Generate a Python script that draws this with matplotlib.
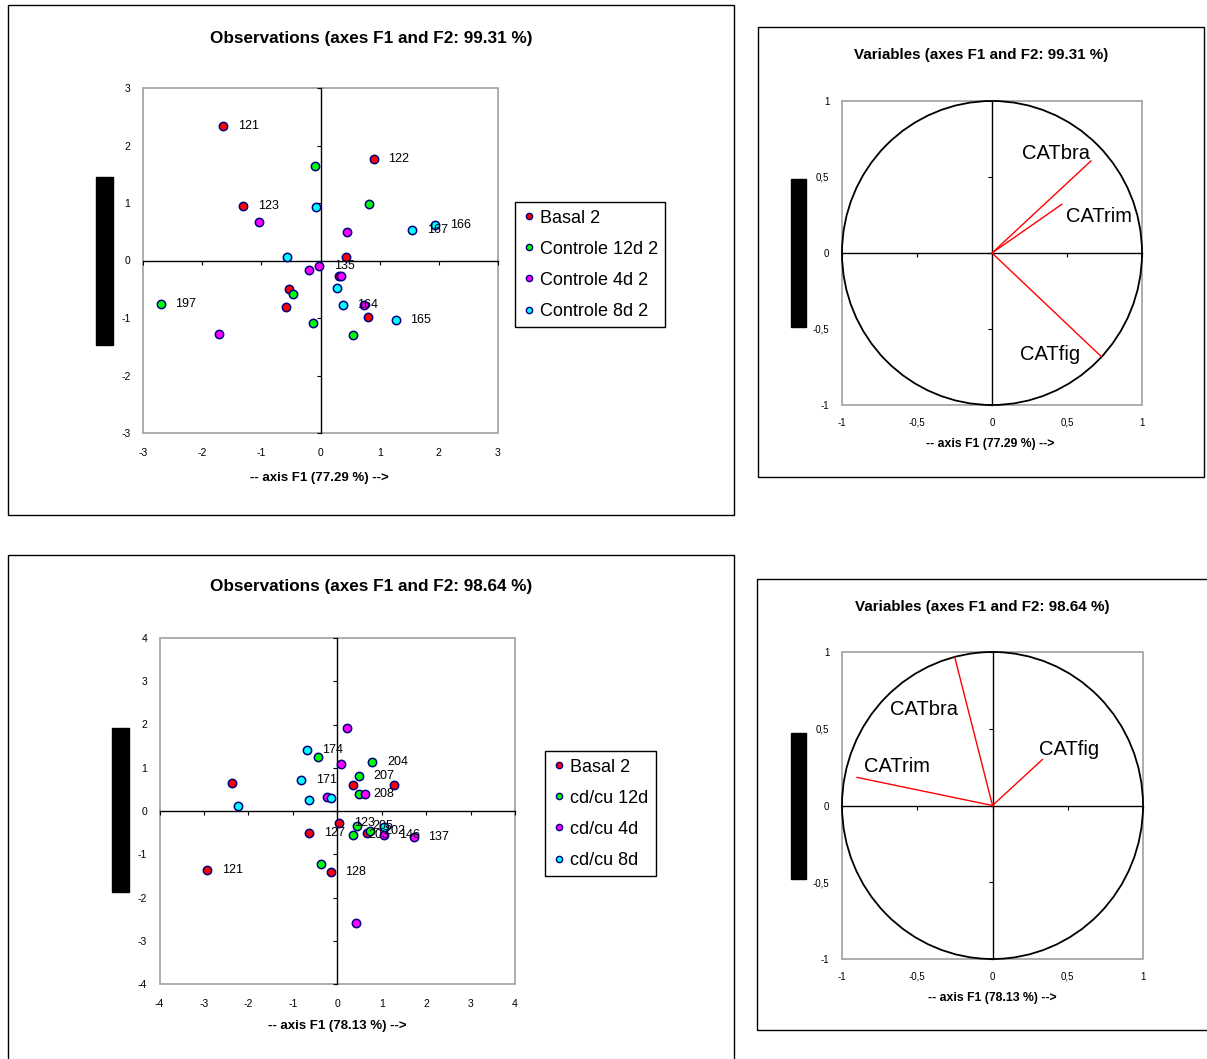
import matplotlib
matplotlib.use('Agg')
import matplotlib.pyplot as plt
from matplotlib.patches import Rectangle, Circle
from matplotlib.lines import Line2D

# ---------------- data ----------------
# Top observations (axes F1 and F2: 99.31 %)
top_series = ['Basal 2', 'Controle 12d 2', 'Controle 4d 2', 'Controle 8d 2']
top_basal_x = [-1.64, 0.90, -1.31, 0.43, 0.31, -0.54, -0.59, 0.80]
top_basal_y = [2.34, 1.77, 0.95, 0.06, -0.275, -0.50, -0.80, -0.99]
top_basal_lbl = ['121', '122', '123', '', '', '', '', '']
top_c12_x = [-0.10, 0.82, -0.46, -2.70, -0.12, 0.555]
top_c12_y = [1.64, 0.98, -0.58, -0.76, -1.09, -1.29]
top_c12_lbl = ['', '', '', '197', '', '']
top_c4_x = [-1.04, 0.45, -0.19, -0.02, 0.35, 0.73, -1.71]
top_c4_y = [0.675, 0.50, -0.17, -0.09, -0.275, -0.78, -1.27]
top_c4_lbl = ['', '', '', '135', '', '', '']
top_c8_x = [-0.07, 1.94, 1.55, -0.57, 0.28, 0.375, 1.275]
top_c8_y = [0.93, 0.62, 0.525, 0.06, -0.47, -0.78, -1.035]
top_c8_lbl = ['', '166', '167', '', '', '164', '165']

# Bottom observations (axes F1 and F2: 98.64 %)
bot_series = ['Basal 2', 'cd/cu 12d', 'cd/cu 4d', 'cd/cu 8d']
bot_basal_x = [-2.36, 0.35, 1.28, 0.05, 0.68, -0.63, -0.15, -2.92]
bot_basal_y = [0.64, 0.60, 0.60, -0.28, -0.51, -0.51, -1.40, -1.37]
bot_basal_lbl = ['', '', '', '123', '', '127', '128', '121']
bot_c12_x = [-0.44, 0.79, 0.48, 0.48, 0.45, 0.73, 0.36, -0.37]
bot_c12_y = [1.24, 1.14, 0.81, 0.40, -0.35, -0.46, -0.55, -1.23]
bot_c12_lbl = ['', '204', '207', '208', '205', '202', '203', '']
bot_c4_x = [0.22, 0.09, 0.63, -0.24, 1.06, 1.72, 0.42]
bot_c4_y = [1.92, 1.08, 0.40, 0.33, -0.55, -0.59, -2.59]
bot_c4_lbl = ['', '', '', '', '146', '137', '']
bot_c8_x = [-0.67, -0.81, -0.14, -0.64, -2.23, 1.05]
bot_c8_y = [1.41, 0.71, 0.29, 0.26, 0.12, -0.38]
bot_c8_lbl = ['174', '171', '', '', '', '']

# Variables (correlation circles)
var_names = ['CATbra', 'CATrim', 'CATfig']
top_var_x = [0.66, 0.465, 0.727]
top_var_y = [0.606, 0.32, -0.68]
bot_var_x = [-0.25, -0.90, 0.332]
bot_var_y = [0.963, 0.183, 0.30]

obs_ticks_top = [-3, -2, -1, 0, 1, 2, 3]
obs_ticks_bot = [-4, -3, -2, -1, 0, 1, 2, 3, 4]
var_ticks = [-1, -0.5, 0, 0.5, 1]
var_tick_labels = ['-1', '-0,5', '0', '0,5', '1']

# ---------------- layout ----------------
W, H = 1207, 1059
DPI = 100
plt.rcParams['font.family'] = ['Liberation Sans', 'DejaVu Sans']
GRAY = '#a0a0a0'
COLORS = ['#ff0000', '#00ff00', '#ff00ff', '#00ffff']
EDGE = '#000080'

fig = plt.figure(figsize=(W / DPI, H / DPI), dpi=DPI)


def add_ax(l, t, r, b):
    return fig.add_axes([l / W, 1 - b / H, (r - l) / W, (b - t) / H])


def rect(l, t, r, b, filled=False):
    fig.patches.append(Rectangle((l / W, 1 - b / H), (r - l) / W, (b - t) / H,
                                 transform=fig.transFigure, fill=filled,
                                 fc='black' if filled else 'none',
                                 ec='black', lw=1, zorder=10))


def ftext(x, y, s, **kw):
    fig.text(x / W, 1 - y / H, s, ha='center', va='center', **kw)


def style(ax, lim, ticks, labels, fs, padx, pady):
    ax.set_xlim(-lim, lim)
    ax.set_ylim(-lim, lim)
    ax.spines['top'].set_visible(False)
    ax.spines['right'].set_visible(False)
    for s in ['left', 'bottom']:
        ax.spines[s].set_position(('data', 0))
        ax.spines[s].set_color('black')
        ax.spines[s].set_linewidth(1)
    ax.set_xticks(ticks)
    ax.set_yticks(ticks)
    ax.tick_params(direction='out', length=3, width=0.8, color='black',
                   labelbottom=False, labelleft=False)
    ax.add_patch(Rectangle((0, 0), 1, 1, transform=ax.transAxes, fill=False,
                           ec=GRAY, lw=1.2, zorder=0.5, clip_on=False))
    sx = ax.secondary_xaxis('bottom')
    sx.set_ticks(ticks, labels)
    sx.tick_params(length=0, pad=padx, labelsize=fs)
    sx.spines['bottom'].set_visible(False)
    sy = ax.secondary_yaxis('left')
    sy.set_ticks(ticks, labels)
    sy.tick_params(length=0, pad=pady, labelsize=fs)
    sy.spines['left'].set_visible(False)


def obs_panel(ax, xs, ys, lbls):
    for i in range(4):
        ax.plot(xs[i], ys[i], 'o', ls='none', mfc=COLORS[i], mec=EDGE, ms=6,
                mew=1.1, zorder=3, clip_on=False)
    for i in range(4):
        for x, y, t in zip(xs[i], ys[i], lbls[i]):
            if t:
                ax.annotate(t, (x, y), xytext=(10.5, 0), textcoords='offset points',
                            ha='left', va='center', fontsize=9, zorder=4)


def var_panel(ax, vx, vy, lpos):
    ax.add_patch(Circle((0, 0), 1, fill=False, ec='black', lw=1.3, zorder=2, clip_on=False))
    for x, y, name, (tx, ty) in zip(vx, vy, var_names, lpos):
        ax.plot([0, x], [0, y], color='red', lw=1, zorder=3)
        ax.text(tx, ty, name, fontsize=14.5, ha='left', va='center', zorder=4)


def legend(names, l, t):
    handles = [Line2D([], [], marker='o', ls='none', mfc=c, mec=EDGE, ms=4.5, mew=1)
               for c in COLORS]
    lg = fig.legend(handles, names, loc='upper left', bbox_to_anchor=(l / W, 1 - t / H),
                    bbox_transform=fig.transFigure, frameon=True, fancybox=False,
                    edgecolor='black', fontsize=13, handlelength=0.7, handletextpad=0.25,
                    labelspacing=0.78, borderpad=0.42, borderaxespad=0, framealpha=1)
    lg.get_frame().set_linewidth(1)


# ---- top-left observations ----
ax1 = add_ax(143, 88, 498, 433)
style(ax1, 3, obs_ticks_top, [str(t) for t in obs_ticks_top], 7.5, 11, 9)
obs_panel(ax1, [top_basal_x, top_c12_x, top_c4_x, top_c8_x],
          [top_basal_y, top_c12_y, top_c4_y, top_c8_y],
          [top_basal_lbl, top_c12_lbl, top_c4_lbl, top_c8_lbl])
legend(top_series, 515, 202)
rect(8, 5, 734, 515)
ftext(371, 38, 'Observations (axes F1 and F2: 99.31 %)', fontsize=12.3, fontweight='bold')
ftext(319, 478, '-- axis F1 (77.29 %) -->', fontsize=9.5, fontweight='bold')
rect(96, 177, 113, 345, filled=True)

# ---- top-right variables ----
ax2 = add_ax(842, 101, 1142, 405)
style(ax2, 1, var_ticks, var_tick_labels, 7, 9, 9)
var_panel(ax2, top_var_x, top_var_y, [(0.198, 0.657), (0.494, 0.24), (0.189, -0.665)])
rect(758, 27, 1204, 477)
ftext(981, 55, 'Variables (axes F1 and F2: 99.31 %)', fontsize=10.9, fontweight='bold')
ftext(990, 444, '-- axis F1 (77.29 %) -->', fontsize=8.8, fontweight='bold')
rect(791, 179, 806, 327, filled=True)

# ---- bottom-left observations ----
ax3 = add_ax(159.5, 638, 515, 984)
style(ax3, 4, obs_ticks_bot, [str(t) for t in obs_ticks_bot], 7.5, 11, 9)
obs_panel(ax3, [bot_basal_x, bot_c12_x, bot_c4_x, bot_c8_x],
          [bot_basal_y, bot_c12_y, bot_c4_y, bot_c8_y],
          [bot_basal_lbl, bot_c12_lbl, bot_c4_lbl, bot_c8_lbl])
legend(bot_series, 545, 751)
rect(8, 555, 734, 1075)
ftext(371, 587, 'Observations (axes F1 and F2: 98.64 %)', fontsize=12.3, fontweight='bold')
ftext(337, 1026, '-- axis F1 (78.13 %) -->', fontsize=9.5, fontweight='bold')
rect(112, 728, 129, 892, filled=True)

# ---- bottom-right variables ----
ax4 = add_ax(842, 652, 1143, 959)
style(ax4, 1, var_ticks, var_tick_labels, 7, 9, 9)
var_panel(ax4, bot_var_x, bot_var_y, [(-0.68, 0.624), (-0.853, 0.255), (0.31, 0.368)])
rect(757, 579, 1210, 1030)
ftext(982, 607, 'Variables (axes F1 and F2: 98.64 %)', fontsize=10.9, fontweight='bold')
ftext(992, 998, '-- axis F1 (78.13 %) -->', fontsize=8.8, fontweight='bold')
rect(791, 733, 806, 879, filled=True)

fig.savefig('out.png', dpi=DPI)
